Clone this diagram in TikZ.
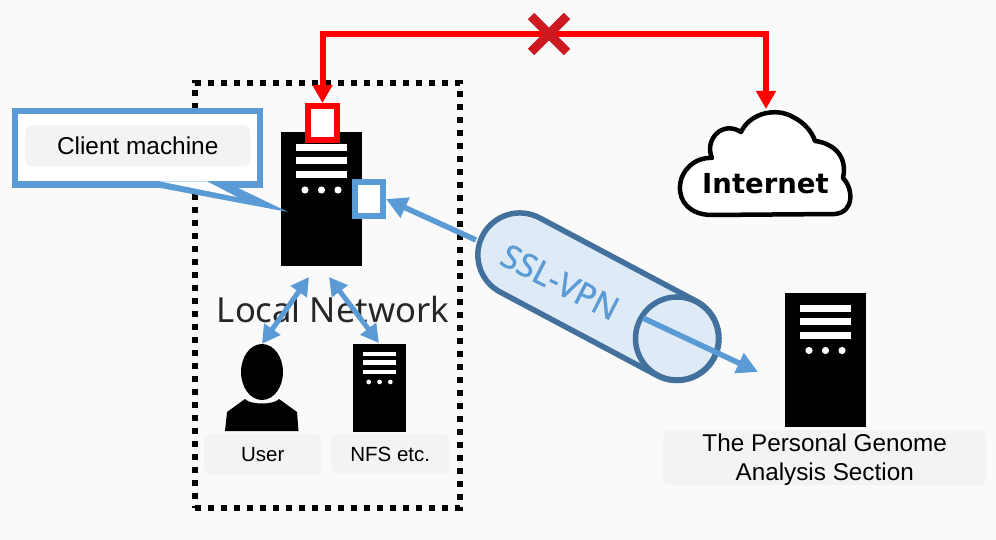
\documentclass[tikz,border=0pt]{standalone}
\usepackage{fontspec}
\setmainfont{Liberation Sans}
\newfontfamily\notofont{Noto Sans}
\newfontfamily\sslfont[FakeBold=1.2]{Noto Sans}
\newfontfamily\dejafont{DejaVu Sans}
\usetikzlibrary{arrows.meta,calc,shapes.geometric}
\definecolor{pagebg}{HTML}{FAFAFA}
\definecolor{labelbg}{HTML}{F3F3F3}
\definecolor{bluea}{HTML}{5B9BD5}
\definecolor{tubeline}{HTML}{41719C}
\definecolor{tubefill}{HTML}{DEEAF6}
\definecolor{crossred}{HTML}{CC1922}
\tikzset{
  x=1pt,y=-1pt,
  labelbox/.style={fill=labelbg,rounded corners=7pt,inner sep=0pt,align=center,text=black,anchor=north west},
  portbox/.style={fill=white,draw,line width=6pt,inner sep=0pt,minimum width=#1,anchor=north west},
  redline/.style={draw=red,line width=6pt},
  blueline/.style={draw=bluea,line width=5.5pt},
  bluetip/.style={-{Triangle[length=21pt,width=21pt]}},
  bluedouble/.style={draw=bluea,line width=5pt,{Triangle[length=18pt,width=19pt]}-{Triangle[length=18pt,width=19pt]}},
  tube/.style={draw=tubeline,line width=5.5pt,fill=tubefill},
}
\newcommand{\srv}[4]{% name, x, y, scale
  \node[fill=black,inner sep=0pt,minimum width=#4*81pt,minimum height=#4*134pt,anchor=north west] (#1) at (#2,#3) {};
  \begin{scope}[shift={(#2,#3)},scale=#4]
    \fill[white] (15,12) rectangle (66,19);
    \fill[white] (15,25) rectangle (66,32);
    \fill[white] (15,39) rectangle (66,46);
    \fill[white] (24,58) circle (3.6);
    \fill[white] (40.5,58) circle (3.6);
    \fill[white] (57,58) circle (3.6);
  \end{scope}}
\begin{document}
\begin{tikzpicture}
\useasboundingbox (0,0) rectangle (996,540);
\fill[pagebg] (0,0) rectangle (996,540);

% dotted boundary
\node[draw=black,line width=6pt,dash pattern=on 6pt off 7pt,inner sep=0pt,minimum width=265pt,minimum height=425pt,anchor=north west] (lan) at (192,80) {};

% servers
\srv{client}{281}{132}{1}
\srv{genome}{785}{292.5}{1}
\srv{nfs}{353}{344}{0.655}

% ports
\node[portbox=29pt,draw=red,minimum height=34pt] (redport) at (305,103) {};
\node[portbox=28pt,draw=bluea,minimum height=34pt] (blueport) at (352,179) {};

% cloud
\draw[line width=4.5pt,fill=white,line join=round] (710,215)
  .. controls (690,214) and (679,202) .. (680,186)
  .. controls (681,170) and (695,157) .. (712,158)
  .. controls (704,140) and (722,120) .. (741,132)
  .. controls (750,113) and (776,107) .. (793,117)
  .. controls (805,123) and (812,132) .. (815,141)
  .. controls (832,143) and (848,155) .. (843,178)
  .. controls (853,188) and (855,212) .. (835,214)
  -- cycle;
\node[font=\dejafont\bfseries\fontsize{27.5}{32}\selectfont,inner sep=0pt] (internet) at (765.5,184) {Internet};

% red link
\coordinate (corner1) at (322.5,34);
\coordinate (corner2) at (766,34);
\coordinate (cloudtop) at (766,109);
\draw[redline,{Triangle[length=18pt,width=19pt]}-{Triangle[length=18pt,width=19pt]}] (redport.north) -- (corner1) -- (corner2) -- (cloudtop);
\draw[draw=crossred,line width=9pt] (531,16) -- (567,52) (567,16) -- (531,52);

% callout
\draw[draw=bluea,line width=6.5pt,fill=white] (15,111) rectangle (260,184.7);
\fill[bluea] (160,187.9) -- (288,212) -- (238,187.9) -- (207,187.9) -- cycle;
\fill[white] (160,181.4) -- (207,181.4) -- (237,197) -- cycle;
\node[labelbox,minimum width=225pt,minimum height=41pt,font=\fontsize{24.4}{28}\selectfont] (clientlabel) at (25,125) {Client machine};

% local network
\node[font=\notofont\fontsize{34.6}{40}\selectfont,text=black!85,inner sep=0pt] (lantext) at (333,310) {Local Network};
\coordinate (hub1) at (309,277);
\coordinate (hub2) at (329,277);

% user
\node[fill=black,ellipse,inner sep=0pt,minimum width=42pt,minimum height=56pt] (userhead) at (262,372) {};
\fill[black] (225,431) -- (227,412) -- (245,399) .. controls (250,405) and (274,405) .. (279,399) -- (297,412) -- (298.5,431) -- cycle;
\draw[bluedouble] (hub1) -- (userhead.north);
\draw[bluedouble] (hub2) -- (379,343);

% labels
\node[labelbox,minimum width=117pt,minimum height=41pt,font=\fontsize{20.5}{25}\selectfont] (userlabel) at (204,434) {User};
\node[labelbox,minimum width=118pt,minimum height=40pt,font=\fontsize{20.5}{25}\selectfont] (nfslabel) at (331,434) {NFS etc.};
\node[labelbox,minimum width=323pt,minimum height=54pt,font=\fontsize{24.3}{29}\selectfont] (genomelabel) at (663,430) {\rule{0pt}{21pt}The Personal Genome\\Analysis Section};

% VPN arrow and tunnel
\coordinate (tubein) at (476,240);
\coordinate (tubeout) at (643,318);
\coordinate (target) at (758,372);
\draw[blueline,bluetip] (tubein) -- (blueport.east);
\begin{scope}[shift={(677,338.5)},rotate=-28]
  \draw[tube] (-178,-42) -- (0,-42) arc[start angle=-90,end angle=90,radius=42] -- (-178,42) arc[start angle=90,end angle=270,radius=42] -- cycle;
  \draw[tube] (0,0) circle (41.5);
\end{scope}
\node[rotate=-27,font=\sslfont\fontsize{32.5}{36}\selectfont,text=bluea,inner sep=0pt] (ssl) at (560,282) {SSL-VPN};
\draw[blueline,bluetip] (tubeout) -- (target);
\end{tikzpicture}
\end{document}
